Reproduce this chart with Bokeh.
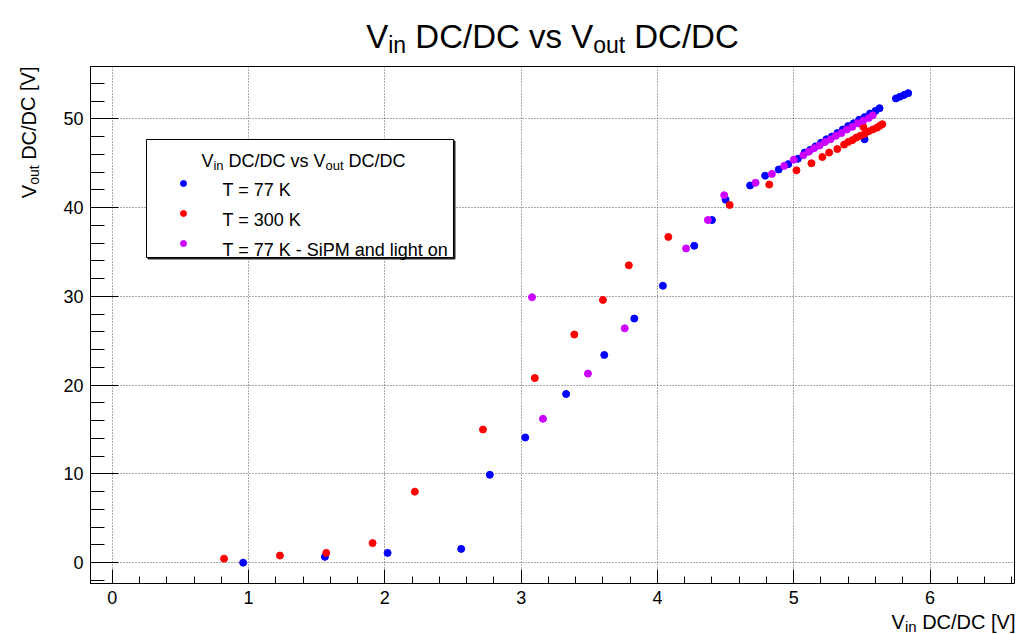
import math
from bokeh.plotting import figure
from bokeh.models import Range1d, FixedTicker, BoxAnnotation, ColumnDataSource
from bokeh.core.properties import value, field
from bokeh.embed import file_html
from bokeh.resources import INLINE

# ---------------- data ----------------
vin_77 = [0.96, 1.56, 2.02, 2.56, 2.77, 3.03, 3.33, 3.61, 3.83, 4.04, 4.27, 4.40, 4.50,
          4.68, 4.79, 4.89, 4.96, 5.03, 5.08, 5.12, 5.16, 5.20, 5.24, 5.28, 5.32, 5.36,
          5.40, 5.44, 5.48, 5.52, 5.56, 5.60, 5.63, 5.52, 5.75, 5.78, 5.81, 5.84]
vout_77 = [0.0, 0.65, 1.1, 1.55, 9.9, 14.1, 19.0, 23.4, 27.5, 31.2, 35.7, 38.6, 40.9,
           42.5, 43.6, 44.3, 44.9, 45.5, 46.2, 46.5, 46.9, 47.3, 47.7, 48.0, 48.4, 48.8,
           49.2, 49.5, 49.9, 50.2, 50.6, 50.9, 51.2, 47.7, 52.3, 52.5, 52.7, 52.9]

vin_300 = [0.82, 1.23, 1.57, 1.91, 2.22, 2.72, 3.10, 3.39, 3.60, 3.79, 4.08, 4.53, 4.82,
           5.02, 5.13, 5.21, 5.26, 5.32, 5.37, 5.40, 5.43, 5.46, 5.49, 5.52, 5.55, 5.58,
           5.61, 5.63, 5.65, 5.51]
vout_300 = [0.45, 0.8, 1.1, 2.2, 8.0, 15.0, 20.8, 25.7, 29.6, 33.5, 36.7, 40.3, 42.6,
            44.2, 45.0, 45.7, 46.2, 46.6, 47.1, 47.4, 47.6, 47.9, 48.1, 48.3, 48.6, 48.8,
            49.0, 49.2, 49.4, 49.1]

vin_light = [3.08, 3.16, 3.49, 3.76, 4.21, 4.37, 4.49, 4.72, 4.84, 4.93, 5.00, 5.07,
             5.11, 5.15, 5.19, 5.23, 5.27, 5.31, 5.35, 5.39, 5.43, 5.47, 5.51, 5.55, 5.58]
vout_light = [29.9, 16.2, 21.3, 26.4, 35.4, 38.6, 41.4, 42.8, 43.8, 44.7, 45.4, 45.9,
              46.3, 46.7, 47.0, 47.4, 47.7, 48.1, 48.4, 48.8, 49.1, 49.5, 49.8, 50.1, 50.4]

series_labels = ["T = 77 K", "T = 300 K", "T = 77 K - SiPM and light on"]
series_colors = ["#0000ff", "#ff0000", "#cc00ff"]

x_major = [0, 1, 2, 3, 4, 5, 6]
y_major = [0, 10, 20, 30, 40, 50]

# ---------------- layout ----------------
W, H = 1025, 634
FL, FR, FT, FB = 90, 1014, 66, 583
XMIN, XMAX = -0.16, 6.62
YMIN, YMAX = -2.35, 55.9
FONT = "Liberation Sans"

p = figure(width=W, height=H, x_range=Range1d(XMIN, XMAX), y_range=Range1d(YMIN, YMAX),
           output_backend="svg", toolbar_location=None,
           min_border_left=FL, min_border_right=W - FR, min_border_top=FT,
           min_border_bottom=H - FB)
p.background_fill_color = "white"
p.border_fill_color = "white"
p.outline_line_color = "black"
p.outline_line_width = 1

xminor = [round(0.2 * k, 2) for k in range(0, 34) if k % 5 != 0]
yminor = [2 * k for k in range(-1, 28) if k % 5 != 0]
p.xaxis.ticker = FixedTicker(ticks=x_major, minor_ticks=xminor)
p.yaxis.ticker = FixedTicker(ticks=y_major, minor_ticks=yminor)

for ax in (p.xaxis[0], p.yaxis[0]):
    ax.axis_line_color = "black"
    ax.major_tick_line_color = "black"
    ax.minor_tick_line_color = "black"
    ax.major_tick_out = 0
    ax.minor_tick_out = 0
    ax.major_label_text_font = FONT
    ax.major_label_text_font_size = "18px"
    ax.major_label_text_color = "black"
p.xaxis.major_tick_in = 14
p.xaxis.minor_tick_in = 7
p.yaxis.major_tick_in = 28
p.yaxis.minor_tick_in = 14
p.xaxis.major_label_standoff = 7
p.yaxis.major_label_standoff = 7

for g in (p.xgrid[0], p.ygrid[0]):
    g.grid_line_color = "#555555"
    g.grid_line_dash = "1 2"
    g.grid_line_width = 1

# data marks
for xs, ys, col in [(vin_77, vout_77, series_colors[0]),
                    (vin_300, vout_300, series_colors[1]),
                    (vin_light, vout_light, series_colors[2])]:
    p.scatter(xs, ys, marker="circle", size=7, fill_color=col, line_color=col)

# ---------------- text helpers ----------------
ADV = {' ': 278, 'V': 667, 'i': 222, 'n': 556, 'D': 722, 'C': 722, '/': 278, 'v': 500,
       's': 500, 'o': 556, 'u': 556, 't': 278, '[': 278, ']': 278}


def tw(s, size):
    return sum(ADV.get(c, 556) for c in s) * size / 1000.0


def sx(px):
    return XMIN + (px - FL) / (FR - FL) * (XMAX - XMIN)


def sy(py):
    return YMIN + (FB - py) / (FB - FT) * (YMAX - YMIN)


TX, TY, TT, TS, TA = [], [], [], [], []


def put(text, px, py, size, angle=0.0):
    TX.append(sx(px))
    TY.append(sy(py))
    TT.append(text)
    TS.append(f"{size}px")
    TA.append(angle)


def rich(pieces, px, py, size, sub_size, drop, align="left", vertical=False):
    widths = [tw(t, sub_size if sub else size) for t, sub in pieces]
    total = sum(widths)
    if align == "center":
        pos = -total / 2
    elif align == "right":
        pos = -total
    else:
        pos = 0
    for (t, sub), w in zip(pieces, widths):
        s = sub_size if sub else size
        d = drop if sub else 0
        lead = len(t) - len(t.lstrip(" "))
        off = pos + tw(" " * lead, s)
        t2 = t.strip(" ")
        if vertical:
            put(t2, px + d, py - off, s, angle=math.pi / 2)
        else:
            put(t2, px + off, py + d, s)
        pos += w


# title
rich([("V", False), ("in", True), (" DC/DC vs V", False), ("out", True), (" DC/DC", False)],
     552, 36, 33, 23, 8, align="center")
# x axis title (right aligned)
rich([("V", False), ("in", True), (" DC/DC [V]", False)], 1015, 621, 20, 15, 5, align="right")
# y axis title (rotated, right aligned at the top)
rich([("V", False), ("out", True), (" DC/DC [V]", False)], 28, 66, 20, 14, 5,
     align="right", vertical=True)

# ---------------- legend ----------------
LX0, LX1, LY0, LY1 = 146, 453, 139, 257
p.add_layout(BoxAnnotation(left=sx(LX0 + 1.5), right=sx(LX1 + 1.5), top=sy(LY0 + 1.5),
                           bottom=sy(LY1 + 1.5), fill_color="#222222", fill_alpha=1,
                           line_color="#222222", line_alpha=1))
p.add_layout(BoxAnnotation(left=sx(LX0), right=sx(LX1), top=sy(LY0), bottom=sy(LY1),
                           fill_color="white", fill_alpha=1, line_color="black",
                           line_width=1, line_alpha=1))
rich([("V", False), ("in", True), (" DC/DC vs V", False), ("out", True), (" DC/DC", False)],
     303, 160, 18, 13, 5, align="center")
entry_py = [183, 213, 243]
mk = p.scatter([sx(183)] * 3, [sy(v) for v in entry_py], marker="circle", size=6,
               fill_color=series_colors, line_color=series_colors)
mk.level = "overlay"
for lab, py in zip(series_labels, entry_py):
    put(lab, 222, py + 6, 18)

src = ColumnDataSource(dict(x=TX, y=TY, text=TT, size=TS, angle=TA))
tr = p.text(x="x", y="y", text="text", angle="angle", source=src,
            text_font=value(FONT), text_font_size=field("size"),
            text_align="left", text_baseline="alphabetic", text_color="black")
tr.level = "overlay"

open("out.html", "w").write(file_html(p, INLINE))
